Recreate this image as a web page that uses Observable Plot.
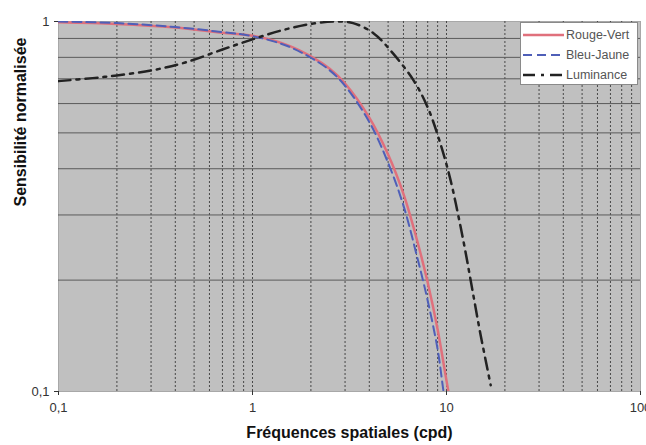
<!DOCTYPE html>
<html><head><meta charset="utf-8">
<script src="https://cdn.jsdelivr.net/npm/d3@7"></script>
<script src="https://cdn.jsdelivr.net/npm/@observablehq/plot@0.6"></script>
<style>
body{margin:0;background:#fff;font-family:"Liberation Sans",Arial,sans-serif;}
#wrap{position:relative;width:646px;height:445px;overflow:hidden;}
#legend{position:absolute;left:520px;top:22px;width:118px;height:63px;background:#fff;border:1px solid #8a8a8a;box-sizing:border-box;}
#legend .row{position:absolute;left:0;height:16px;display:flex;align-items:center;}
#legend .row span{font-size:12.5px;color:#555;margin-left:2px;white-space:nowrap;}
</style></head><body><div id="wrap"></div>
<script>
// Rouge-Vert
const freqRV = [0.1, 0.2, 0.4, 0.7, 1.0, 1.5, 2.0, 2.5, 3.0, 4.0, 5.0, 6.0, 7.0, 8.0, 9.0, 10.0, 10.6];
const rougeVert = [0.995, 0.985, 0.963, 0.932, 0.915, 0.865, 0.805, 0.745, 0.68, 0.55, 0.437, 0.342, 0.26, 0.197, 0.147, 0.107, 0.09];
// Bleu-Jaune
const freqBJ = [0.1, 0.2, 0.4, 0.7, 1.0, 1.5, 2.0, 2.5, 3.0, 4.0, 5.0, 6.0, 7.0, 8.0, 9.0, 9.6, 10.0];
const bleuJaune = [1.0, 0.99, 0.966, 0.936, 0.913, 0.86, 0.798, 0.738, 0.67, 0.535, 0.415, 0.318, 0.235, 0.176, 0.13, 0.102, 0.088];
// Luminance
const freqLum = [0.1, 0.15, 0.2, 0.3, 0.45, 0.7, 1.0, 1.4, 2.0, 2.7, 3.3, 4.2, 5.3, 6.8, 8.0, 9.3, 10.5, 11.5, 12.5, 13.6, 15.0, 16.9];
const luminance = [0.69, 0.703, 0.715, 0.737, 0.775, 0.84, 0.895, 0.945, 0.985, 1.0, 0.99, 0.93, 0.82, 0.69, 0.586, 0.468, 0.372, 0.299, 0.24, 0.188, 0.142, 0.104];

const xTickVals = [0.1, 1, 10, 100];
const xTickLabels = ["0,1", "1", "10", "100"];
const yTickVals = [0.1, 1];
const yTickLabels = ["0,1", "1"];
const xGrid = [0.2,0.3,0.4,0.5,0.6,0.7,0.8,0.9,1,2,3,4,5,6,7,8,9,10,20,30,40,50,60,70,80,90];
const yGrid = [0.2,0.3,0.4,0.5,0.6,0.7,0.8,0.9];

const seriesNames = ["Rouge-Vert", "Bleu-Jaune", "Luminance"];
const seriesColors = ["#e0707c", "#4f5fb8", "#222222"];
const seriesDash = [null, "9,5", "12,6,3,6"];
const seriesWidth = [2.5, 2, 2.5];

const toRows = (fs, vs) => fs.map((f, i) => ({f, v: vs[i]}));
const rv = toRows(freqRV, rougeVert);
const bj = toRows(freqBJ, bleuJaune);
const lum = toRows(freqLum, luminance);

const chart = Plot.plot({
  width: 646, height: 445,
  marginLeft: 58, marginRight: 6, marginTop: 21, marginBottom: 54,
  style: {fontFamily: '"Liberation Sans", Arial, sans-serif', fontSize: "13px", background: "transparent", color: "#333"},
  x: {type: "log", domain: [0.1, 100]},
  y: {type: "log", domain: [0.1, 1]},
  marks: [
    Plot.frame({fill: "#c0c0c0", stroke: "#a8a8a8"}),
    Plot.ruleX(xGrid, {stroke: "#333", strokeDasharray: "2,2", strokeOpacity: 0.85}),
    Plot.ruleY(yGrid, {stroke: "#5a5a5a", strokeWidth: 1}),
    Plot.line(rv, {x: "f", y: "v", stroke: seriesColors[0], strokeWidth: seriesWidth[0], curve: "catmull-rom", clip: true}),
    Plot.line(bj, {x: "f", y: "v", stroke: seriesColors[1], strokeWidth: seriesWidth[1], strokeDasharray: seriesDash[1], curve: "catmull-rom", clip: true}),
    Plot.line(lum, {x: "f", y: "v", stroke: seriesColors[2], strokeWidth: seriesWidth[2], strokeDasharray: seriesDash[2], curve: "catmull-rom", clip: true}),
    Plot.axisX({ticks: xTickVals, tickFormat: d => xTickLabels[xTickVals.indexOf(d)], tickSize: 4, tickPadding: 7, label: null, fontSize: 13}),
    Plot.axisY({ticks: yTickVals, tickFormat: d => yTickLabels[yTickVals.indexOf(d)], tickSize: 4, tickPadding: 5, label: null, fontSize: 13}),
    Plot.text(["Fréquences spatiales (cpd)"], {frameAnchor: "bottom", dy: 46, fontWeight: "bold", fontSize: 16, fill: "#111"}),
    Plot.text(["Sensibilité normalisée"], {frameAnchor: "left", dx: -38, rotate: -90, fontWeight: "bold", fontSize: 16, fill: "#111"})
  ]
});
const wrap = document.getElementById("wrap");
wrap.appendChild(chart);

const legend = document.createElement("div");
legend.id = "legend";
seriesNames.forEach((name, i) => {
  const row = document.createElement("div");
  row.className = "row";
  row.style.top = (4 + i * 20) + "px";
  const svg = document.createElementNS("http://www.w3.org/2000/svg", "svg");
  svg.setAttribute("width", 43); svg.setAttribute("height", 16);
  const ln = document.createElementNS("http://www.w3.org/2000/svg", "line");
  ln.setAttribute("x1", 2); ln.setAttribute("x2", 43); ln.setAttribute("y1", 8); ln.setAttribute("y2", 8);
  ln.setAttribute("stroke", seriesColors[i]); ln.setAttribute("stroke-width", seriesWidth[i]);
  if (seriesDash[i]) ln.setAttribute("stroke-dasharray", seriesDash[i]);
  svg.appendChild(ln);
  row.appendChild(svg);
  const sp = document.createElement("span");
  sp.textContent = name;
  row.appendChild(sp);
  legend.appendChild(row);
});
wrap.appendChild(legend);
</script>
</body></html>
